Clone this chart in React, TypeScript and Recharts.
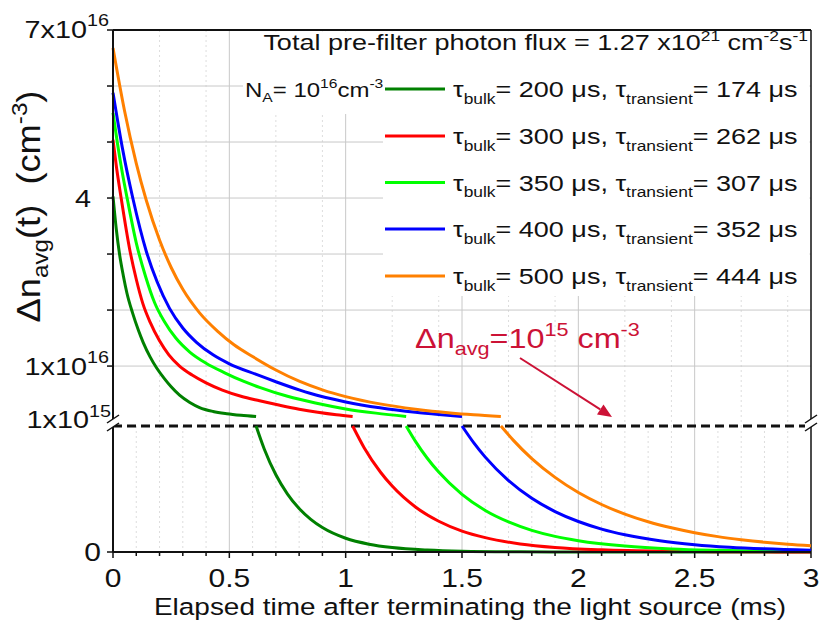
import React from 'react';
import { LineChart, Line, XAxis, YAxis, CartesianGrid, ReferenceLine } from 'recharts';

// ---------------- data ----------------
const timeMajorTicks = [0, 0.5, 1, 1.5, 2, 2.5, 3];
const timeMajorGrid = [0.5, 1, 1.5, 2, 2.5];
const timeMinorTicks = [0.1, 0.2, 0.3, 0.4, 0.6, 0.7, 0.8, 0.9, 1.1, 1.2, 1.3, 1.4, 1.6, 1.7, 1.8, 1.9, 2.1, 2.2, 2.3, 2.4, 2.6, 2.7, 2.8, 2.9];
const timeAllTicks = [0, 0.1, 0.2, 0.3, 0.4, 0.5, 0.6, 0.7, 0.8, 0.9, 1, 1.1, 1.2, 1.3, 1.4, 1.5, 1.6, 1.7, 1.8, 1.9, 2, 2.1, 2.2, 2.3, 2.4, 2.5, 2.6, 2.7, 2.8, 2.9, 3];

// upper (x10^16 cm^-3) axis
const upperYTicks = [1, 2, 3, 4, 5, 6, 7];
const upperGridY = [1, 2, 3, 4, 5, 6];
const yUpperLabelValues = [7, 4, 1];
const yUpperLabelMain = ['7x10', '4', '1x10'];
const yUpperLabelSup = ['16', '', '16'];
// lower (x10^15 cm^-3) axis
const lowerYTicks = [0, 1];
const lowerYLabelMain = ['0', '1x10'];
const lowerYLabelSup = ['', '15'];

const tauBulk = [200, 300, 350, 400, 500];
const tauTransient = [174, 262, 307, 352, 444];
const seriesColors = ['#008000', '#ff0000', '#00ff00', '#0000ff', '#ff8000'];

// upper segments: time (ms), density (x10^16 cm^-3)
const t200Up = [0, 0.014, 0.028, 0.045, 0.06, 0.084, 0.11, 0.13, 0.16, 0.187, 0.22, 0.25, 0.286, 0.33, 0.372, 0.43, 0.489, 0.55, 0.615];
const n200Up = [4.03, 3.45, 3.0, 2.6, 2.3, 1.95, 1.63, 1.42, 1.16, 0.97, 0.78, 0.63, 0.48, 0.35, 0.26, 0.19, 0.15, 0.122, 0.1];
const t300Up = [0, 0.015, 0.035, 0.071, 0.1, 0.128, 0.16, 0.2, 0.24, 0.286, 0.34, 0.4, 0.47, 0.55, 0.63, 0.717, 0.8, 0.88, 0.96, 1.03];
const n300Up = [5.04, 4.55, 4.0, 3.1, 2.55, 2.12, 1.78, 1.45, 1.2, 1.0, 0.84, 0.7, 0.57, 0.46, 0.38, 0.3, 0.23, 0.175, 0.13, 0.1];
const t350Up = [0, 0.02, 0.04, 0.063, 0.1, 0.14, 0.179, 0.22, 0.27, 0.33, 0.4, 0.48, 0.56, 0.63, 0.75, 0.87, 1.0, 1.13, 1.26];
const n350Up = [5.52, 4.95, 4.45, 3.95, 3.2, 2.6, 2.13, 1.8, 1.5, 1.25, 1.05, 0.88, 0.73, 0.62, 0.46, 0.34, 0.235, 0.16, 0.1];
const t400Up = [0, 0.04, 0.085, 0.143, 0.19, 0.243, 0.3, 0.36, 0.43, 0.5, 0.616, 0.7, 0.8, 0.893, 1.0, 1.147, 1.3, 1.4, 1.5];
const n400Up = [5.88, 4.9, 4.0, 3.05, 2.5, 2.03, 1.68, 1.42, 1.2, 1.04, 0.85, 0.72, 0.575, 0.46, 0.36, 0.255, 0.175, 0.135, 0.1];
const t500Up = [0, 0.05, 0.1, 0.143, 0.2, 0.25, 0.3, 0.372, 0.45, 0.52, 0.6, 0.7, 0.8, 0.9, 1.0, 1.147, 1.3, 1.45, 1.55, 1.667];
const n500Up = [6.68, 5.55, 4.62, 3.96, 3.25, 2.76, 2.37, 1.95, 1.62, 1.38, 1.17, 0.93, 0.73, 0.575, 0.455, 0.325, 0.23, 0.163, 0.13, 0.1];

// lower segments: time (ms), density (x10^15 cm^-3)
const t200Low = [0.615, 0.65, 0.7, 0.75, 0.8, 0.85, 0.9, 1.0, 1.1, 1.2, 1.35, 1.5, 1.75, 2.0, 2.5, 3.0];
const n200Low = [1.0, 0.818, 0.613, 0.46, 0.345, 0.259, 0.194, 0.109, 0.062, 0.035, 0.015, 0.006, 0.0015, 0.0004, 0, 0];
const t300Low = [1.03, 1.08, 1.15, 1.2, 1.3, 1.4, 1.5, 1.6, 1.75, 1.9, 2.1, 2.4, 2.7, 3.0];
const n300Low = [1.0, 0.826, 0.633, 0.523, 0.357, 0.244, 0.166, 0.114, 0.064, 0.036, 0.017, 0.0054, 0.0017, 0.0005];
const t350Low = [1.26, 1.3, 1.35, 1.4, 1.5, 1.6, 1.7, 1.8, 1.9, 2.0, 2.2, 2.4, 2.6, 2.8, 3.0];
const n350Low = [1.0, 0.878, 0.746, 0.634, 0.458, 0.33, 0.239, 0.172, 0.124, 0.09, 0.047, 0.024, 0.013, 0.0066, 0.0035];
const t400Low = [1.5, 1.55, 1.6, 1.7, 1.8, 1.9, 2.0, 2.1, 2.2, 2.35, 2.5, 2.65, 2.8, 3.0];
const n400Low = [1.0, 0.868, 0.753, 0.567, 0.426, 0.321, 0.242, 0.182, 0.137, 0.089, 0.058, 0.038, 0.025, 0.014];
const t500Low = [1.667, 1.72, 1.8, 1.9, 2.0, 2.1, 2.2, 2.3, 2.4, 2.5, 2.6, 2.7, 2.8, 2.9, 3.0];
const n500Low = [1.0, 0.888, 0.741, 0.592, 0.472, 0.377, 0.301, 0.24, 0.192, 0.153, 0.122, 0.098, 0.078, 0.062, 0.05];

const zip = (ts: number[], ns: number[]) => ts.map((t, i) => ({ t, n: ns[i] }));
const upperSeries = [zip(t200Up, n200Up), zip(t300Up, n300Up), zip(t350Up, n350Up), zip(t400Up, n400Up), zip(t500Up, n500Up)];
const lowerSeries = [zip(t200Low, n200Low), zip(t300Low, n300Low), zip(t350Low, n350Low), zip(t400Low, n400Low), zip(t500Low, n500Low)];

// ---------------- style ----------------
const FONT = '"Liberation Sans", Arial, Helvetica, sans-serif';
const SX = 1.2;
const INK = '#111';
const ANN = '#cc1236';
const W = 820;
const H = 623;
const PLOT_LEFT = 113;
const RIGHT_MARGIN = 9;
const BREAK_Y = 426;
const BOTTOM_Y = 552;

const upperLabelRight = [109, 91, 109];
const upperLabelDy = [7.5, 9, 9];
const lowerLabelRight = [101, 111];
const lowerLabelDy = [8.5, 2];

function UpperYTick(props: any) {
  const { x, y, payload } = props;
  const v = payload ? payload.value : null;
  const idx = yUpperLabelValues.indexOf(v);
  return (
    <g>
      <line x1={x - 6} x2={x} y1={y} y2={y} stroke={INK} strokeWidth={1.5} />
      {idx >= 0 && (
        <text
          transform={`translate(${upperLabelRight[idx]},${y + upperLabelDy[idx]}) scale(${SX},1)`}
          textAnchor="end"
          fontSize={24}
          fontFamily={FONT}
          fill={INK}
        >
          {yUpperLabelMain[idx]}
          {yUpperLabelSup[idx] ? (
            <tspan dy={-12} fontSize={16.5}>
              {yUpperLabelSup[idx]}
            </tspan>
          ) : null}
        </text>
      )}
    </g>
  );
}

function LowerYTick(props: any) {
  const { x, y, payload } = props;
  const idx = lowerYTicks.indexOf(payload ? payload.value : null);
  if (idx < 0) return <g />;
  return (
    <g>
      {idx === 0 && <line x1={x - 6} x2={x} y1={y} y2={y} stroke={INK} strokeWidth={1.5} />}
      <text
        transform={`translate(${lowerLabelRight[idx]},${y + lowerLabelDy[idx]}) scale(${SX},1)`}
        textAnchor="end"
        fontSize={idx === 0 ? 25 : 24}
        fontFamily={FONT}
        fill={INK}
      >
        {lowerYLabelMain[idx]}
        {lowerYLabelSup[idx] ? (
          <tspan dy={-11} fontSize={16.5}>
            {lowerYLabelSup[idx]}
          </tspan>
        ) : null}
      </text>
    </g>
  );
}

function XTick(props: any) {
  const { x, y, payload } = props;
  const v = payload ? payload.value : 0;
  const major = timeMajorTicks.indexOf(v) >= 0;
  return (
    <g>
      <line x1={x} x2={x} y1={y} y2={y + (major ? 6 : 4)} stroke={INK} strokeWidth={1.5} />
      {major && (
        <text transform={`translate(${x},${y + 35}) scale(${SX},1)`} textAnchor="middle" fontSize={25} fontFamily={FONT} fill={INK}>
          {String(v)}
        </text>
      )}
    </g>
  );
}

const legendRowY = [89, 136, 182.5, 229, 276];

function BreakMark({ x }: { x: number }) {
  return (
    <g>
      <polygon points={`${x - 6},${BREAK_Y - 3} ${x + 6},${BREAK_Y - 11} ${x + 6},${BREAK_Y - 3} ${x - 6},${BREAK_Y + 5}`} fill="#fff" />
      <line x1={x - 6} y1={BREAK_Y - 3} x2={x + 6} y2={BREAK_Y - 11} stroke={INK} strokeWidth={1.5} />
      <line x1={x - 6} y1={BREAK_Y + 5} x2={x + 6} y2={BREAK_Y - 3} stroke={INK} strokeWidth={1.5} />
    </g>
  );
}

export default function App() {
  const arrowFrom = [520, 358];
  const arrowTip = [612, 417];
  const dx = arrowTip[0] - arrowFrom[0];
  const dy = arrowTip[1] - arrowFrom[1];
  const len = Math.sqrt(dx * dx + dy * dy);
  const ux = dx / len;
  const uy = dy / len;
  const hb = [arrowTip[0] - 14 * ux, arrowTip[1] - 14 * uy];
  const c1 = [hb[0] - 6 * uy, hb[1] + 6 * ux];
  const c2 = [hb[0] + 6 * uy, hb[1] - 6 * ux];

  return (
    <div style={{ position: 'absolute', left: 0, top: 0, width: W, height: H, background: '#fff', fontFamily: FONT }}>
      {/* upper segment: 1x10^15 .. 7x10^16 */}
      <div style={{ position: 'absolute', left: 0, top: 0 }}>
        <LineChart width={W} height={BREAK_Y} margin={{ top: 30, right: RIGHT_MARGIN, bottom: 0, left: 0 }}>
          <CartesianGrid horizontal={false} verticalValues={timeMinorTicks} stroke="#dddddd" strokeDasharray="2 3" />
          <CartesianGrid horizontalValues={upperGridY} verticalValues={timeMajorGrid} stroke="#c8c8c8" />
          <XAxis type="number" dataKey="t" domain={[0, 3]} ticks={timeMajorTicks} hide />
          <YAxis
            type="number"
            domain={[-0.07, 7]}
            ticks={upperYTicks}
            interval={0}
            width={PLOT_LEFT}
            tick={UpperYTick}
            tickLine={false}
            tickSize={0}
            tickMargin={0}
            axisLine={{ stroke: INK, strokeWidth: 2 }}
          />
          <ReferenceLine y={7} stroke={INK} strokeWidth={2} />
          <ReferenceLine x={3} stroke={INK} strokeWidth={1.5} />
          {upperSeries.map((d, i) => (
            <Line
              key={'u' + i}
              data={d}
              dataKey="n"
              type="monotone"
              stroke={seriesColors[i]}
              strokeWidth={3}
              dot={false}
              activeDot={false}
              isAnimationActive={false}
            />
          ))}
        </LineChart>
      </div>

      {/* lower segment: 0 .. 1x10^15 */}
      <div style={{ position: 'absolute', left: 0, top: 0 }}>
        <LineChart width={W} height={H} margin={{ top: BREAK_Y, right: RIGHT_MARGIN, bottom: 0, left: 0 }}>
          <CartesianGrid horizontal={false} verticalValues={timeMinorTicks} stroke="#dddddd" strokeDasharray="2 3" />
          <CartesianGrid horizontal={false} verticalValues={timeMajorGrid} stroke="#c8c8c8" />
          <XAxis
            type="number"
            dataKey="t"
            domain={[0, 3]}
            ticks={timeAllTicks}
            interval={0}
            height={H - BOTTOM_Y}
            tick={XTick}
            tickLine={false}
            tickSize={0}
            tickMargin={0}
            axisLine={{ stroke: INK, strokeWidth: 2 }}
          />
          <YAxis
            type="number"
            domain={[0, 1]}
            ticks={lowerYTicks}
            interval={0}
            width={PLOT_LEFT}
            tick={LowerYTick}
            tickLine={false}
            tickSize={0}
            tickMargin={0}
            axisLine={{ stroke: INK, strokeWidth: 2 }}
          />
          <ReferenceLine x={3} stroke={INK} strokeWidth={1.5} />
          <ReferenceLine y={1} stroke={INK} strokeWidth={3} strokeDasharray="9 5" />
          {lowerSeries.map((d, i) => (
            <Line
              key={'l' + i}
              data={d}
              dataKey="n"
              type="monotone"
              stroke={seriesColors[i]}
              strokeWidth={3}
              dot={false}
              activeDot={false}
              isAnimationActive={false}
            />
          ))}
        </LineChart>
      </div>

      {/* overlay: legend, titles, annotation, break marks */}
      <svg width={W} height={H} style={{ position: 'absolute', left: 0, top: 0, pointerEvents: 'none' }} fontFamily={FONT}>
        <rect x={243} y={31.5} width={566.5} height={35} fill="#fff" />
        <rect x={243} y={66} width={141} height={48} fill="#fff" />
        <rect x={383} y={31.5} width={426.5} height={264.5} fill="#fff" />

        <text transform={`translate(808,50) scale(${SX},1)`} textAnchor="end" fontSize={22.5} fill={INK}>
          {'Total pre-filter photon flux = 1.27 x10'}
          <tspan dy={-9} fontSize={14.5}>21</tspan>
          <tspan dy={9}>{' cm'}</tspan>
          <tspan dy={-9} fontSize={14.5}>-2</tspan>
          <tspan dy={9}>s</tspan>
          <tspan dy={-9} fontSize={14.5}>-1</tspan>
        </text>

        <text transform={`translate(245,97) scale(${SX},1)`} fontSize={20} fill={INK}>
          N
          <tspan dy={5} fontSize={13}>A</tspan>
          <tspan dy={-5}>{'= 10'}</tspan>
          <tspan dy={-9} fontSize={13}>16</tspan>
          <tspan dy={9}>cm</tspan>
          <tspan dy={-9} fontSize={13}>-3</tspan>
        </text>

        {tauBulk.map((b, i) => (
          <g key={'lg' + i}>
            <line x1={385} x2={445} y1={legendRowY[i]} y2={legendRowY[i]} stroke={seriesColors[i]} strokeWidth={3} />
            <text transform={`translate(453,${legendRowY[i] + 8}) scale(${SX},1)`} fontSize={22.5} fill={INK}>
              {'τ'}
              <tspan dy={6.5} fontSize={14.5}>bulk</tspan>
              <tspan dy={-6.5}>{`= ${b} μs, τ`}</tspan>
              <tspan dy={6.5} fontSize={14.5}>transient</tspan>
              <tspan dy={-6.5}>{`= ${tauTransient[i]} μs`}</tspan>
            </text>
          </g>
        ))}

        <text transform={`translate(415,348) scale(${SX},1)`} fontSize={27} fill={ANN}>
          {'Δn'}
          <tspan dy={7} fontSize={18}>avg</tspan>
          <tspan dy={-7}>=10</tspan>
          <tspan dy={-12} fontSize={18}>15</tspan>
          <tspan dy={12}>{' cm'}</tspan>
          <tspan dy={-12} fontSize={18}>-3</tspan>
        </text>
        <line x1={arrowFrom[0]} y1={arrowFrom[1]} x2={hb[0]} y2={hb[1]} stroke={ANN} strokeWidth={2} />
        <polygon points={`${arrowTip[0]},${arrowTip[1]} ${c1[0]},${c1[1]} ${c2[0]},${c2[1]}`} fill={ANN} />

        <text transform={`translate(40,206.5) rotate(-90) scale(1.1,1)`} textAnchor="middle" fontSize={33} fill={INK}>
          {'Δn'}
          <tspan dy={8} fontSize={22}>avg</tspan>
          <tspan dy={-8}>{'(t)\u00A0\u00A0(cm'}</tspan>
          <tspan dy={-13} fontSize={22}>-3</tspan>
          <tspan dy={13}>)</tspan>
        </text>

        <text transform={`translate(470,615) scale(${SX},1)`} textAnchor="middle" fontSize={23.3} fill={INK}>
          Elapsed time after terminating the light source (ms)
        </text>

        <BreakMark x={PLOT_LEFT} />
        <BreakMark x={W - RIGHT_MARGIN} />
      </svg>
    </div>
  );
}
